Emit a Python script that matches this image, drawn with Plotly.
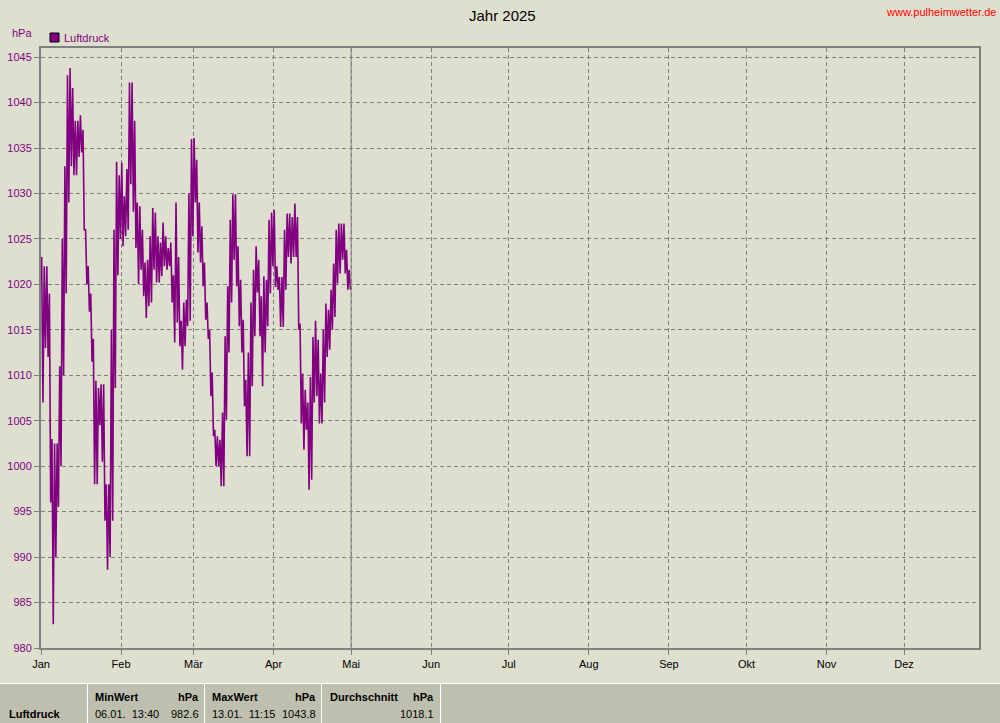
import pandas as pd
import plotly.graph_objects as go

# ---------------- data ----------------
start_date = "2025-01-01"
# daily high / low of air pressure (hPa), one entry per day from 1 Jan
day_hi = [1023, 1022, 1022, 1019, 1003, 1002.5, 1002.5, 1011, 1025, 1033,
          1043, 1043.8, 1041.6, 1038, 1038, 1038.6, 1037, 1026, 1022, 1019,
          1014, 1009.4, 1008.6, 1009, 1009, 998, 998, 1015, 1026, 1033.5,
          1032, 1033.4, 1029.7, 1032.7, 1042.2, 1042.2, 1038, 1029, 1028.6, 1026,
          1022.4, 1022.7, 1025.3, 1028.4, 1027.9, 1025.3, 1024.6, 1026.8, 1025.3, 1024,
          1024.6, 1021, 1029, 1023, 1016, 1018, 1018.3, 1030, 1036, 1036.1,
          1033.7, 1029, 1026.4, 1022.4, 1018, 1015, 1010.3, 1004, 1003.3, 1002.9,
          1005.9, 1014.3, 1019.8, 1027.1, 1029.9, 1029.9, 1024.2, 1020.5, 1016.1, 1009.5,
          1012.5, 1018, 1021.6, 1024.2, 1022.7, 1018.7, 1020.9, 1020.5, 1027.1, 1027.9,
          1028.2, 1022, 1020.8, 1020.8, 1026, 1027.8, 1027.8, 1027.4, 1028.9, 1027.4,
          1015.7, 1010.2, 1008.4, 1007, 1009.8, 1014.2, 1016, 1013.9, 1010.2, 1015,
          1017.9, 1017.2, 1019.4, 1022.3, 1026, 1026.7, 1026.7, 1026.7, 1023.8, 1021.6]
day_lo = [1007, 1013, 1012, 996, 982.6, 990, 995.5, 1000, 1010, 1019,
          1029, 1033, 1032, 1032, 1034, 1034.5, 1026, 1020, 1017, 1011.5,
          998, 998, 1004.5, 1000.5, 994, 988.6, 990, 994, 1008.6, 1021,
          1025, 1024.2, 1025.3, 1026, 1031, 1028, 1024, 1020, 1021.6, 1018.7,
          1016.3, 1017.6, 1018, 1021.6, 1020.2, 1020.2, 1020.9, 1022, 1021.6, 1022,
          1018, 1013.6, 1015.8, 1013.2, 1010.6, 1013.2, 1015.4, 1016, 1025.3, 1029,
          1023.5, 1022.4, 1019.8, 1016.1, 1014, 1007.7, 1003.3, 1000, 1000, 997.8,
          997.8, 1005.1, 1012.5, 1018, 1022.7, 1019.8, 1015.4, 1012.5, 1006.6, 1001.1,
          1001.1, 1008.8, 1014.3, 1019.1, 1014.3, 1008.8, 1012.5, 1015.4, 1019, 1022,
          1019.7, 1019.4, 1015.3, 1015.3, 1019.4, 1023, 1022.3, 1023, 1023, 1015,
          1004.7, 1001.8, 1004, 997.4, 998.5, 1007, 1007.7, 1004.7, 1004.7, 1007,
          1012, 1012.8, 1015, 1016.4, 1020.1, 1021.2, 1022.7, 1021.2, 1019.4, 1019.4]

month_labels = ["Jan", "Feb", "Mär", "Apr", "Mai", "Jun", "Jul", "Aug", "Sep", "Okt", "Nov", "Dez"]
month_starts = ["2025-01-01", "2025-02-01", "2025-03-01", "2025-04-01", "2025-05-01", "2025-06-01",
                "2025-07-01", "2025-08-01", "2025-09-01", "2025-10-01", "2025-11-01", "2025-12-01"]
x_range = ["2025-01-01", "2025-12-30"]
y_ticks = [980, 985, 990, 995, 1000, 1005, 1010, 1015, 1020, 1025, 1030, 1035, 1040, 1045]
y_range = [980, 1046]
today_marker = "2025-05-01"

series_name = "Luftdruck"
unit = "hPa"
title_text = "Jahr 2025"
site_text = "www.pulheimwetter.de"
min_time, min_val = "06.01.  13:40", "982.6"
max_time, max_val = "13.01.  11:15", "1043.8"
avg_val = "1018.1"

# ---------------- build trace ----------------
base = pd.Timestamp(start_date)
xs, ys = [], []
for i, (h, l) in enumerate(zip(day_hi, day_lo)):
    xs.append(base + pd.Timedelta(hours=24 * i + 6))
    ys.append(h)
    xs.append(base + pd.Timedelta(hours=24 * i + 18))
    ys.append(l)

PURPLE = "#800080"
BG = "#DFDFD0"
TABLE_BG = "#BFBFAF"
GRID = "#808080"
FONT = "Liberation Sans"

W, H = 1000, 723
ML, MR, MT, MB = 41, 21, 48, 75
PW, PH = W - ML - MR, H - MT - MB


def px(xp):
    return (xp - ML) / PW


def py(yp):
    return (H - MB - yp) / PH


fig = go.Figure()
fig.add_trace(go.Scatter(x=xs, y=ys, mode="lines", line=dict(color=PURPLE, width=1.6),
                         name=series_name, showlegend=False, hoverinfo="x+y"))

shapes = []
# today marker line
shapes.append(dict(type="line", xref="x", yref="paper", x0=today_marker, x1=today_marker,
                   y0=0, y1=1, line=dict(color=GRID, width=1)))
# legend square
shapes.append(dict(type="rect", xref="paper", yref="paper", x0=px(50), x1=px(59), y0=py(42), y1=py(33),
                   fillcolor=PURPLE, line=dict(color="black", width=1)))
# bottom table
shapes.append(dict(type="rect", xref="paper", yref="paper", x0=px(0), x1=px(1000), y0=py(723), y1=py(683),
                   fillcolor=TABLE_BG, line=dict(width=0), layer="below"))
shapes.append(dict(type="line", xref="paper", yref="paper", x0=px(0), x1=px(1000), y0=py(683.5), y1=py(683.5),
                   line=dict(color="white", width=1)))
for sx in [87.5, 204.5, 321.5, 440.5]:
    shapes.append(dict(type="line", xref="paper", yref="paper", x0=px(sx), x1=px(sx), y0=py(684), y1=py(723),
                       line=dict(color="white", width=1)))

ann = []


def text(t, xp, yp, anchor="left", color="black", size=11, bold=False):
    if bold:
        t = "<b>" + t + "</b>"
    ann.append(dict(text=t, xref="paper", yref="paper", x=px(xp), y=py(yp), xanchor=anchor,
                    yanchor="middle", showarrow=False, font=dict(family=FONT, size=size, color=color)))


text(title_text, 502, 15, anchor="center", size=15)
text(site_text, 998, 12, anchor="right", color="#FF0000", size=11)
text(unit, 10, 33, anchor="left", color=PURPLE, size=11)
text(series_name, 62, 38, anchor="left", color=PURPLE, size=11)

text(series_name, 7, 714, bold=True)
text("MinWert", 93, 697, bold=True)
text(unit, 201, 697, anchor="right", bold=True)
text(min_time, 93, 714)
text(min_val, 201, 714, anchor="right")
text("MaxWert", 210, 697, bold=True)
text(unit, 318, 697, anchor="right", bold=True)
text(max_time, 210, 714)
text(max_val, 318, 714, anchor="right")
text("Durchschnitt", 328, 697, bold=True)
text(unit, 436, 697, anchor="right", bold=True)
text(avg_val, 436, 714, anchor="right")

fig.update_layout(
    width=W, height=H,
    margin=dict(l=ML, r=MR, t=MT, b=MB, pad=0, autoexpand=False),
    paper_bgcolor=BG, plot_bgcolor=BG,
    showlegend=False,
    shapes=shapes, annotations=ann,
    font=dict(family=FONT, size=11, color="black"),
    xaxis=dict(type="date", range=x_range, tickvals=month_starts, ticktext=month_labels,
               showgrid=True, gridcolor=GRID, griddash="4px,3px", gridwidth=1,
               showline=True, mirror=True, linecolor=GRID, linewidth=2,
               ticks="outside", ticklen=5, tickcolor=GRID, zeroline=False, automargin=False,
               tickfont=dict(family=FONT, size=11, color="black")),
    yaxis=dict(range=y_range, tickvals=y_ticks, showgrid=True, gridcolor=GRID,
               griddash="4px,3px", gridwidth=1,
               showline=True, mirror=True, linecolor=GRID, linewidth=2,
               ticks="outside", ticklen=5, tickcolor=GRID, zeroline=False, automargin=False,
               tickfont=dict(family=FONT, size=11, color=PURPLE)),
)

fig.write_html("out.html", config={"displayModeBar": False},
               post_script="document.body.style.margin='0';")
